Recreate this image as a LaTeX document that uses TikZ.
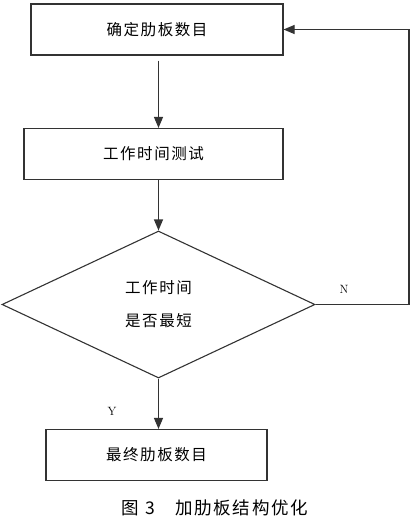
\documentclass[tikz,border=0pt]{standalone}
\usepackage{fontspec}
\newfontfamily\cjk[LetterSpace=10]{Noto Sans CJK SC}
\usetikzlibrary{shapes.geometric,arrows.meta}

\begin{document}
\begin{tikzpicture}[x=1pt,y=-1pt,
        box/.style={draw=black!80, line width=1.1pt, minimum height=51pt, inner sep=0pt, font=\cjk\fontsize{15.5}{18}\selectfont},
        decide/.style={draw=black!80, line width=1.1pt, diamond, minimum width=313pt, minimum height=147pt, inner sep=0pt, align=center, font=\cjk\fontsize{15.5}{33}\selectfont},
        arr/.style={draw=black!80, line width=1.1pt, -{Triangle[length=11pt,width=9pt]}}]
        \useasboundingbox (0,0) rectangle (415,520);

        % Узлы
        \node[box, minimum width=252pt] (A) at (157,29.5) {确定肋板数目};
        \node[box, minimum width=259pt] (B) at (153.5,154) {工作时间测试};
        \node[decide] (C) at (158.5,304.5) {工作时间\\是否最短};
        \node[box, minimum width=221pt] (D) at (156.5,455) {最终肋板数目};
        \coordinate (R) at (409,29.5);

        % Линии
        \draw[arr] (A.south -| C.north) ++(0,5) -- (B.north -| C.north);
        \draw[arr] (B.south -| C.north) -- (C.north);
        \draw[arr] (C.south) -- (D.north -| C.south);
        \draw[arr] (C.east) -| (R) -- (A.east);

        % Подписи
        \node[font=\fontsize{12}{14}\selectfont] (N) at (344,289) {N};
        \node[font=\fontsize{12}{14}\selectfont] (Y) at (112,411) {Y};
        \node[font=\cjk\fontsize{17.5}{20}\selectfont] (T) at (215,508) {图\hspace{6pt}3\hspace{20pt}加肋板结构优化};
\end{tikzpicture}
\end{document}
